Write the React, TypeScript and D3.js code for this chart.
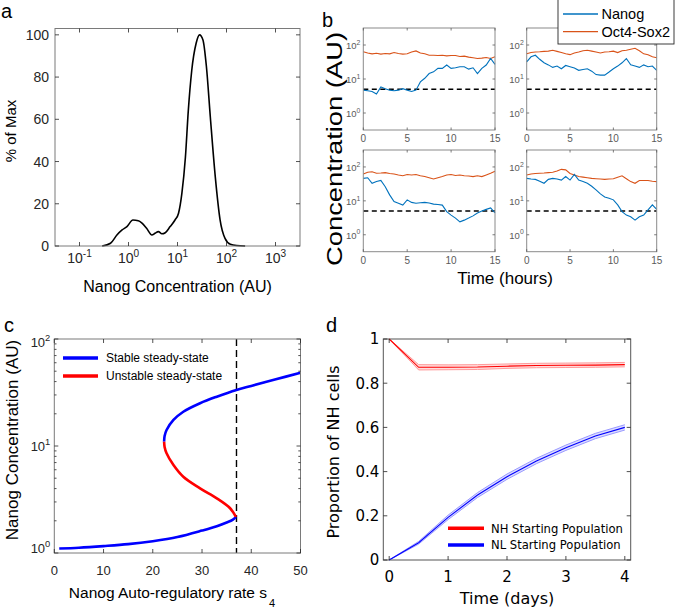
import * as d3 from "d3";

const FONT = "'Liberation Sans', Arial, Helvetica, sans-serif";
const FONT_D = "'DejaVu Sans', Verdana, sans-serif";
const AX = "#262626";
const BLUE_M = "#0072BD";
const ORANGE_M = "#D95319";

// ---- panel a: Nanog distribution
const densityConc = [0.29, 0.43, 0.58, 0.74, 0.93, 1.23, 1.58, 1.86, 2.34, 3.0, 3.47, 4.07, 4.79, 5.62, 7.08, 8.9, 10.5, 12.3, 14.5, 16.6, 19.5, 24, 28.2, 33.1, 38.9, 46.8, 58.9, 74.1, 93.3, 120, 162, 240];
const densityPct = [0, 1.3, 5.2, 7.6, 9.2, 12.3, 12, 11, 8.4, 5.2, 6, 6.8, 5.8, 6.3, 9.2, 12.3, 15.5, 25, 42, 64, 83, 96, 100, 97.6, 85, 61, 33, 12.3, 3.6, 0.8, 0.2, 0];
const aDecades = [-1, 0, 1, 2, 3];
const aPctTicks = [0, 20, 40, 60, 80, 100];

// ---- panel b: single cell trajectories
const hours = [0, 0.5, 1, 1.5, 2, 2.5, 3, 3.5, 4, 4.5, 5, 5.5, 6, 6.5, 7, 7.5, 8, 8.5, 9, 9.5, 10, 10.5, 11, 11.5, 12, 12.5, 13, 13.5, 14, 14.5, 15];
const nanogTL = [4.7, 4.5, 4.3, 3.6, 5.8, 5.2, 4.7, 4.5, 4.7, 5.2, 4.7, 4.3, 4.7, 8.2, 10.5, 14.5, 16.2, 20.5, 20.5, 25.8, 20.5, 21.4, 23, 23, 19.5, 21.4, 14.5, 20.5, 25.8, 40, 27];
const oct4TL = [63, 58, 55, 57, 54, 56, 55, 60, 56, 54, 55, 62, 67, 58, 55, 50, 50, 49, 50, 48, 49, 49, 46, 47, 44, 42, 40, 41, 43, 40, 45];
const nanogTR = [32, 45, 50, 38, 30, 26, 22, 24, 20, 25, 23, 21, 18, 19, 20, 17, 13.5, 13, 13, 16, 20, 24, 30, 40, 26, 24, 22, 26, 23, 24, 18];
const oct4TR = [55, 60, 62, 63, 65, 66, 70, 65, 60, 55, 52, 58, 62, 68, 70, 66, 62, 58, 62, 63, 66, 60, 68, 70, 75, 80, 68, 55, 52, 45, 42];
const nanogBL = [46, 48, 33, 37, 40, 26, 15, 9.5, 8.5, 7.5, 10.7, 9, 8.5, 8.8, 9, 8.6, 8, 7.8, 7.5, 4.8, 3.8, 3.1, 2.4, 2.7, 3.1, 3.6, 4.4, 5, 5.6, 6.2, 4.4];
const oct4BL = [62, 70, 72, 65, 66, 68, 64, 62, 58, 55, 60, 58, 60, 55, 52, 48, 44, 48, 52, 58, 60, 56, 58, 55, 54, 52, 55, 52, 58, 65, 75];
const nanogBR = [46, 44, 43, 38, 33, 43, 46, 44, 41, 52, 41, 60, 41, 37, 33, 27, 21, 16, 13, 12, 10.7, 7.6, 4.8, 3.8, 3.4, 2.7, 3.4, 3.8, 5.4, 7.6, 5.6];
const oct4BR = [58, 62, 64, 65, 66, 68, 70, 76, 85, 82, 64, 58, 52, 50, 48, 46, 45, 44, 43, 44, 45, 50, 55, 45, 37, 33, 40, 40, 40, 38, 37];
const nanogThreshold = 5;
const bTimeTicks = [0, 5, 10, 15];
const bDecades = [0, 1, 2];

// ---- panel c: bifurcation diagram
const stableLowS = [1, 5, 10, 15, 20, 25, 30, 33, 35, 36.2, 36.9];
const stableLowN = [1.1, 1.12, 1.16, 1.21, 1.29, 1.41, 1.62, 1.78, 1.93, 2.04, 2.18];
const unstableS = [36.9, 35.7, 33, 29.6, 26.2, 24.2, 22.8, 22.4, 22.3];
const unstableN = [2.18, 2.62, 3.24, 4.02, 5.16, 6.64, 8.55, 9.8, 11];
const stableHighS = [22.3, 22.4, 22.8, 24.2, 26.2, 29.6, 33, 37, 40, 45, 50];
const stableHighN = [11, 12.4, 14.1, 17.5, 20.9, 25.1, 28.9, 33.4, 36.4, 42, 48.4];
const s4Critical = 37;
const cSTicks = [0, 10, 20, 30, 40, 50];
const cDecades = [0, 1, 2];

// ---- panel d: proportion of NH cells
const days = [0, 0.5, 1, 1.5, 2, 2.5, 3, 3.5, 4];
const nhMean = [1, 0.872, 0.872, 0.873, 0.877, 0.88, 0.881, 0.882, 0.884];
const nhErr = [0, 0.012, 0.011, 0.011, 0.01, 0.01, 0.01, 0.01, 0.01];
const nlMean = [0, 0.078, 0.193, 0.294, 0.377, 0.448, 0.508, 0.561, 0.6];
const nlErr = [0, 0.006, 0.01, 0.011, 0.012, 0.012, 0.012, 0.012, 0.012];
const dDayTicks = [0, 1, 2, 3, 4];
const dPropTicks = [0, 0.2, 0.4, 0.6, 0.8, 1];

type Box = { x0: number; x1: number; y0: number; y1: number };

function PowTen({ x, y, exp, size, anchor, fill }: any) {
  return (
    <text x={x} y={y} fontSize={size} textAnchor={anchor} fill={fill} fontFamily={FONT}>
      10
      <tspan dy={-size * 0.45} fontSize={size * 0.72}>{exp}</tspan>
    </text>
  );
}

function Frame({ b, color, width = 1 }: { b: Box; color: string; width?: number }) {
  return (
    <rect x={b.x0} y={b.y0} width={b.x1 - b.x0} height={b.y1 - b.y0} fill="none" stroke={color} strokeWidth={width} />
  );
}

function XTicks({ b, pos, len, color }: any) {
  return (
    <g stroke={color} strokeWidth={0.8}>
      {pos.map((p: number, i: number) => (
        <g key={i}>
          <line x1={p} x2={p} y1={b.y1} y2={b.y1 - len} />
          <line x1={p} x2={p} y1={b.y0} y2={b.y0 + len} />
        </g>
      ))}
    </g>
  );
}

function YTicks({ b, pos, len, color }: any) {
  return (
    <g stroke={color} strokeWidth={0.8}>
      {pos.map((p: number, i: number) => (
        <g key={i}>
          <line y1={p} y2={p} x1={b.x0} x2={b.x0 + len} />
          <line y1={p} y2={p} x1={b.x1} x2={b.x1 - len} />
        </g>
      ))}
    </g>
  );
}

function PanelA() {
  const b: Box = { x0: 55, x1: 300, y0: 28.5, y1: 246 };
  const x = d3.scaleLog().domain([10 ** -1.5, 10 ** 3.5]).range([b.x0, b.x1]);
  const y = d3.scaleLinear().domain([0, 103]).range([b.y1, b.y0]);
  const line = d3.line<number>()
    .x((_, i) => x(densityConc[i]))
    .y((d) => y(d))
    .curve(d3.curveMonotoneX);
  return (
    <g fontFamily={FONT}>
      <text x={1} y={18} fontSize={20} fill="#000">a</text>
      <path d={line(densityPct) || ""} fill="none" stroke="#000" strokeWidth={1.6} />
      <Frame b={b} color="#7a7a7a" />
      <XTicks b={b} pos={aDecades.map((e) => x(10 ** e))} len={4} color={AX} />
      <YTicks b={b} pos={aPctTicks.map((v) => y(v))} len={4} color={AX} />
      {aPctTicks.map((v) => (
        <text key={v} x={b.x0 - 6} y={y(v)} dy="0.36em" fontSize={14} textAnchor="end" fill={AX}>{v}</text>
      ))}
      {aDecades.map((e) => (
        <PowTen key={e} x={x(10 ** e)} y={263} exp={e} size={14} anchor="middle" fill={AX} />
      ))}
      <text x={(b.x0 + b.x1) / 2} y={292} fontSize={16} textAnchor="middle" fill="#000">Nanog Concentration (AU)</text>
      <text transform="translate(16,131) rotate(-90)" fontSize={15} textAnchor="middle" fill="#000">% of Max</text>
    </g>
  );
}

function Trace({ b, nanog, oct4 }: { b: Box; nanog: number[]; oct4: number[] }) {
  const x = d3.scaleLinear().domain([0, 15]).range([b.x0, b.x1]);
  const y = d3.scaleLog().domain([10 ** -0.5, 10 ** 2.5]).range([b.y1, b.y0]);
  const line = d3.line<number>().x((_, i) => x(hours[i])).y((d) => y(d));
  const gray = "#5a5a5a";
  return (
    <g>
      <line x1={b.x0} x2={b.x1} y1={y(nanogThreshold)} y2={y(nanogThreshold)} stroke="#000" strokeWidth={1.4} strokeDasharray="5,3.5" />
      <path d={line(oct4) || ""} fill="none" stroke={ORANGE_M} strokeWidth={1.1} />
      <path d={line(nanog) || ""} fill="none" stroke={BLUE_M} strokeWidth={1.1} />
      <Frame b={b} color="#8a8a8a" />
      <XTicks b={b} pos={bTimeTicks.map((t) => x(t))} len={2.5} color={gray} />
      <YTicks b={b} pos={bDecades.map((e) => y(10 ** e))} len={2.5} color={gray} />
      {bTimeTicks.map((t) => (
        <text key={t} x={x(t)} y={b.y1 + 12} fontSize={10} textAnchor="middle" fill={gray} fontFamily={FONT}>{t}</text>
      ))}
      {bDecades.map((e) => (
        <PowTen key={e} x={b.x0 - 3} y={y(10 ** e) + 4} exp={e} size={9.5} anchor="end" fill={gray} />
      ))}
    </g>
  );
}

function PanelB() {
  const tl: Box = { x0: 363.3, x1: 495, y0: 28, y1: 130 };
  const tr: Box = { x0: 526.7, x1: 656.7, y0: 28, y1: 130 };
  const bl: Box = { x0: 363.3, x1: 495, y0: 150, y1: 251.7 };
  const br: Box = { x0: 526.7, x1: 656.7, y0: 150, y1: 251.7 };
  return (
    <g fontFamily={FONT}>
      <text x={322} y={27} fontSize={20} fill="#000">b</text>
      <Trace b={tl} nanog={nanogTL} oct4={oct4TL} />
      <Trace b={tr} nanog={nanogTR} oct4={oct4TR} />
      <Trace b={bl} nanog={nanogBL} oct4={oct4BL} />
      <Trace b={br} nanog={nanogBR} oct4={oct4BR} />
      <text x={505} y={284} fontSize={17} textAnchor="middle" fill="#000">Time (hours)</text>
      <text transform="translate(342,149) rotate(-90)" fontSize={22} textAnchor="middle" fill="#000"
        textLength={234} lengthAdjust="spacingAndGlyphs">Concentration (AU)</text>
      <rect x={558} y={-1} width={116} height={45} fill="#fff" stroke={AX} strokeWidth={0.9} />
      <line x1={563} x2={598} y1={14} y2={14} stroke={BLUE_M} strokeWidth={1.3} />
      <text x={601.5} y={19} fontSize={14.5} fill="#000">Nanog</text>
      <line x1={563} x2={598} y1={31.7} y2={31.7} stroke={ORANGE_M} strokeWidth={1.3} />
      <text x={601.5} y={37} fontSize={14.5} fill="#000">Oct4-Sox2</text>
    </g>
  );
}

function PanelC() {
  const b: Box = { x0: 54.3, x1: 300.5, y0: 339, y1: 553 };
  const x = d3.scaleLinear().domain([0, 50]).range([b.x0, b.x1]);
  const y = d3.scaleLog().domain([1, 100]).range([b.y1, b.y0]);
  const branch = (s: number[], n: number[]) =>
    d3.line<number>().x((d) => x(d)).y((_, i) => y(n[i])).curve(d3.curveCatmullRom.alpha(0.5))(s) || "";
  const minor: number[] = [];
  cDecades.slice(0, -1).forEach((e) => [2, 3, 4, 5, 6, 7, 8, 9].forEach((m) => minor.push(y(m * 10 ** e))));
  return (
    <g fontFamily={FONT}>
      <text x={4} y={332} fontSize={20} fill="#000">c</text>
      <line x1={x(s4Critical)} x2={x(s4Critical)} y1={b.y0} y2={b.y1} stroke="#000" strokeWidth={1.4} strokeDasharray="7,4" />
      <path d={branch(stableLowS, stableLowN)} fill="none" stroke="#0000ff" strokeWidth={2.6} />
      <path d={branch(unstableS, unstableN)} fill="none" stroke="#ff0000" strokeWidth={2.6} />
      <path d={branch(stableHighS, stableHighN)} fill="none" stroke="#0000ff" strokeWidth={2.6} />
      <Frame b={b} color="#7a7a7a" />
      <XTicks b={b} pos={cSTicks.map((s) => x(s))} len={4} color={AX} />
      <YTicks b={b} pos={cDecades.map((e) => y(10 ** e))} len={4} color={AX} />
      <YTicks b={b} pos={minor} len={2.2} color={AX} />
      {cSTicks.map((s) => (
        <text key={s} x={x(s)} y={575} fontSize={13} textAnchor="middle" fill={AX}>{s}</text>
      ))}
      {cDecades.map((e) => (
        <PowTen key={e} x={b.x0 - 4} y={y(10 ** e) + (e === 2 ? 8 : e === 0 ? 0 : 5)} exp={e} size={13} anchor="end" fill={AX} />
      ))}
      <line x1={63} x2={98} y1={358} y2={358} stroke="#0000ff" strokeWidth={3.5} />
      <text x={106} y={362} fontSize={12} fill="#000">Stable steady-state</text>
      <line x1={63} x2={98} y1={376} y2={376} stroke="#ff0000" strokeWidth={3.5} />
      <text x={106} y={380} fontSize={12} fill="#000">Unstable steady-state</text>
      <text x={172} y={598} fontSize={15.5} textAnchor="middle" fill="#000">
        Nanog Auto-regulatory rate s<tspan dx={2} dy={9} fontSize={11}>4</tspan>
      </text>
      <text transform="translate(18,440) rotate(-90)" fontSize={17} textAnchor="middle" fill="#000">Nanog Concentration (AU)</text>
    </g>
  );
}

function Band({ x, y, mean, err, color, pale, fill }: any) {
  const area = d3.area<number>()
    .x((_, i) => x(days[i]))
    .y0((d, i) => y(d - err[i]))
    .y1((d, i) => y(d + err[i]));
  const mid = d3.line<number>().x((_, i) => x(days[i])).y((d) => y(d));
  const up = d3.line<number>().x((_, i) => x(days[i])).y((d, i) => y(d + err[i]));
  const lo = d3.line<number>().x((_, i) => x(days[i])).y((d, i) => y(d - err[i]));
  return (
    <g fill="none">
      <path d={area(mean) || ""} fill={fill} />
      <path d={up(mean) || ""} stroke={pale} strokeWidth={1} />
      <path d={lo(mean) || ""} stroke={pale} strokeWidth={1} />
      <path d={mid(mean) || ""} stroke={color} strokeWidth={1.1} />
    </g>
  );
}

function PanelD() {
  const b: Box = { x0: 383.3, x1: 630.7, y0: 339, y1: 560 };
  const x = d3.scaleLinear().domain([-0.1, 4.1]).range([b.x0, b.x1]);
  const y = d3.scaleLinear().domain([0, 1]).range([b.y1, b.y0]);
  return (
    <g fontFamily={FONT_D}>
      <text x={326} y={332} fontSize={20} fill="#000" fontFamily={FONT}>d</text>
      <Band x={x} y={y} mean={nhMean} err={nhErr} color="#ff0000" pale="#ff9a9a" fill="rgba(255,120,120,0.25)" />
      <Band x={x} y={y} mean={nlMean} err={nlErr} color="#0000ff" pale="#9a9aff" fill="rgba(120,120,255,0.25)" />
      <Frame b={b} color="#555" />
      <XTicks b={b} pos={dDayTicks.map((t) => x(t))} len={4} color="#222" />
      <YTicks b={b} pos={dPropTicks.map((v) => y(v))} len={4} color="#222" />
      {dDayTicks.map((t) => (
        <text key={t} x={x(t)} y={582} fontSize={15} textAnchor="middle" fill="#000">{t}</text>
      ))}
      {dPropTicks.map((v) => (
        <text key={v} x={b.x0 - 4} y={y(v)} dy="0.36em" fontSize={15} textAnchor="end" fill="#000">{v}</text>
      ))}
      <line x1={448} x2={484} y1={528.3} y2={528.3} stroke="#ff0000" strokeWidth={3.5} />
      <text x={491} y={532.5} fontSize={11.6} fill="#000">NH Starting Population</text>
      <line x1={448} x2={484} y1={545} y2={545} stroke="#0000ff" strokeWidth={3.5} />
      <text x={491} y={549.2} fontSize={11.6} fill="#000">NL Starting Population</text>
      <text x={507} y={604} fontSize={16} textAnchor="middle" fill="#000">Time (days)</text>
      <text transform="translate(339,452) rotate(-90)" fontSize={16} textAnchor="middle" fill="#000">Proportion of NH cells</text>
    </g>
  );
}

export default function App() {
  return (
    <div style={{ position: "absolute", left: 0, top: 0 }}>
      <svg width={675} height={609} viewBox="0 0 675 609" style={{ display: "block", background: "#fff" }}>
        <PanelA />
        <PanelB />
        <PanelC />
        <PanelD />
      </svg>
    </div>
  );
}
